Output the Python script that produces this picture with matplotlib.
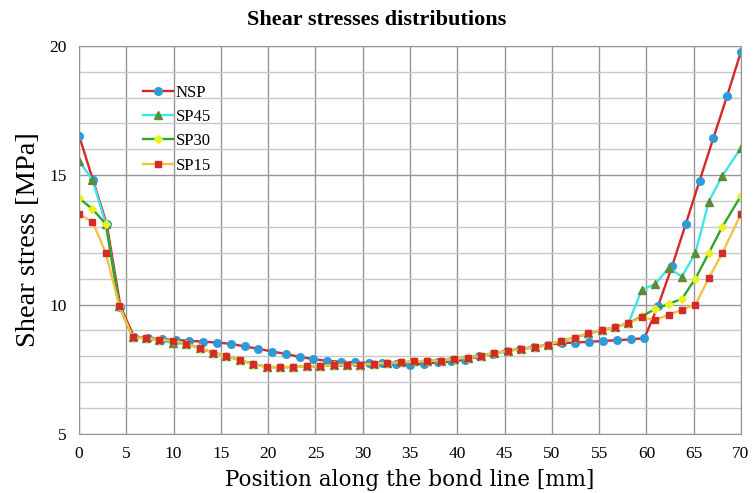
import matplotlib.pyplot as plt
from matplotlib.ticker import MultipleLocator

# position along the bond line [mm]
x_nsp = [0.00, 1.46, 2.92, 4.38, 5.83, 7.29, 8.75, 10.21, 11.67, 13.13,
         14.58, 16.04, 17.50, 18.96, 20.42, 21.88, 23.33, 24.79, 26.25, 27.71,
         29.17, 30.63, 32.08, 33.54, 35.00, 36.46, 37.92, 39.38, 40.83, 42.29,
         43.75, 45.21, 46.67, 48.13, 49.58, 51.04, 52.50, 53.96, 55.42, 56.88,
         58.33, 59.79, 61.25, 62.71, 64.17, 65.63, 67.08, 68.54, 70.00]
x_sp = [0.00, 1.42, 2.83, 4.25, 5.67, 7.09, 8.50, 9.92, 11.34, 12.75,
        14.17, 15.59, 17.00, 18.42, 19.84, 21.26, 22.67, 24.09, 25.51, 26.92,
        28.34, 29.76, 31.17, 32.59, 34.01, 35.43, 36.84, 38.26, 39.68, 41.09,
        42.51, 43.93, 45.34, 46.76, 48.18, 49.60, 51.01, 52.43, 53.85, 55.26,
        56.68, 58.10, 59.51, 60.93, 62.35, 63.76, 65.18, 66.60, 68.02, 70.00]

# shear stress [MPa]
nsp = [16.53, 14.82, 13.12, 9.92, 8.74, 8.70, 8.66, 8.63, 8.60, 8.56,
       8.53, 8.48, 8.38, 8.29, 8.18, 8.09, 7.97, 7.89, 7.82, 7.79,
       7.76, 7.74, 7.72, 7.71, 7.68, 7.71, 7.76, 7.80, 7.86, 8.00,
       8.10, 8.20, 8.28, 8.35, 8.44, 8.51, 8.53, 8.56, 8.59, 8.62,
       8.65, 8.70, 9.96, 11.47, 13.12, 14.79, 16.43, 18.07, 19.77]
sp45 = [15.55, 14.82, 13.11, 9.95, 8.74, 8.69, 8.64, 8.50, 8.49, 8.31,
        8.14, 8.02, 7.84, 7.71, 7.58, 7.58, 7.58, 7.61, 7.62, 7.66,
        7.67, 7.68, 7.71, 7.75, 7.76, 7.80, 7.82, 7.83, 7.90, 7.95,
        8.02, 8.12, 8.21, 8.29, 8.35, 8.45, 8.59, 8.72, 8.88, 9.00,
        9.13, 9.27, 10.57, 10.79, 11.41, 11.08, 11.99, 13.98, 14.97, 16.05]
sp30 = [14.11, 13.69, 13.11, 9.95, 8.74, 8.69, 8.64, 8.58, 8.49, 8.31,
        8.14, 8.02, 7.84, 7.71, 7.58, 7.58, 7.58, 7.61, 7.62, 7.66,
        7.67, 7.68, 7.71, 7.75, 7.76, 7.80, 7.82, 7.83, 7.90, 7.95,
        8.02, 8.12, 8.21, 8.29, 8.35, 8.45, 8.59, 8.72, 8.88, 9.00,
        9.13, 9.27, 9.55, 9.82, 10.02, 10.22, 11.00, 11.99, 13.00, 14.20]
sp15 = [13.49, 13.20, 11.99, 9.95, 8.74, 8.69, 8.64, 8.60, 8.49, 8.31,
        8.14, 8.02, 7.84, 7.71, 7.58, 7.58, 7.58, 7.61, 7.62, 7.66,
        7.67, 7.68, 7.71, 7.75, 7.76, 7.80, 7.82, 7.83, 7.90, 7.95,
        8.02, 8.12, 8.21, 8.29, 8.35, 8.45, 8.59, 8.72, 8.88, 9.00,
        9.13, 9.27, 9.50, 9.41, 9.60, 9.80, 9.99, 11.02, 11.99, 13.49]

serif = ['Liberation Serif', 'DejaVu Serif']
plt.rcParams['font.family'] = serif

fig = plt.figure(figsize=(7.53, 4.93), dpi=100)
ax = fig.add_axes([0.105, 0.12, 0.879, 0.787])

ax.plot(x_nsp, nsp, '-', color='#d8262a', lw=1.7, marker='o', ms=5.5,
        mfc='#2e9bd8', mec='#2e9bd8', label='NSP')
ax.plot(x_sp, sp45, '-', color='#3fe3ea', lw=1.7, marker='^', ms=6,
        mfc='#5a8c3a', mec='#5a8c3a', label='SP45')
ax.plot(x_sp, sp30, '-', color='#2ea62e', lw=1.7, marker='D', ms=4.2,
        mfc='#e9ef25', mec='#e9ef25', label='SP30')
ax.plot(x_sp, sp15, '-', color='#f3c23e', lw=1.7, marker='s', ms=5,
        mfc='#d42a2a', mec='#d42a2a', label='SP15')

ax.set_xlim(0, 70)
ax.set_ylim(5, 20)
ax.xaxis.set_major_locator(MultipleLocator(5))
ax.yaxis.set_major_locator(MultipleLocator(5))
ax.yaxis.set_minor_locator(MultipleLocator(1))
ax.grid(True, which='major', color='#959595', lw=1)
ax.grid(True, which='minor', axis='y', color='#c8c8c8', lw=1)
ax.set_axisbelow(True)
for s in ax.spines.values():
    s.set_color('#959595')
ax.tick_params(which='both', length=0, labelsize=12.5, pad=9)

fig.text(0.5, 1 - 20 / 493, 'Shear stresses distributions', fontsize=16,
         fontweight='bold', ha='center', va='center')
ax.set_xlabel('Position along the bond line [mm]', fontsize=15.5,
              family=['DejaVu Serif'], labelpad=5)
ax.set_ylabel('Shear stress [MPa]', fontsize=20.5, labelpad=6)

ax.legend(loc='upper left', bbox_to_anchor=(0.097, 0.9), frameon=False,
          numpoints=1, fontsize=12, handlelength=1.8, handletextpad=0.15,
          labelspacing=0.5, borderpad=0, borderaxespad=0)

fig.savefig('out.png', dpi=100)
